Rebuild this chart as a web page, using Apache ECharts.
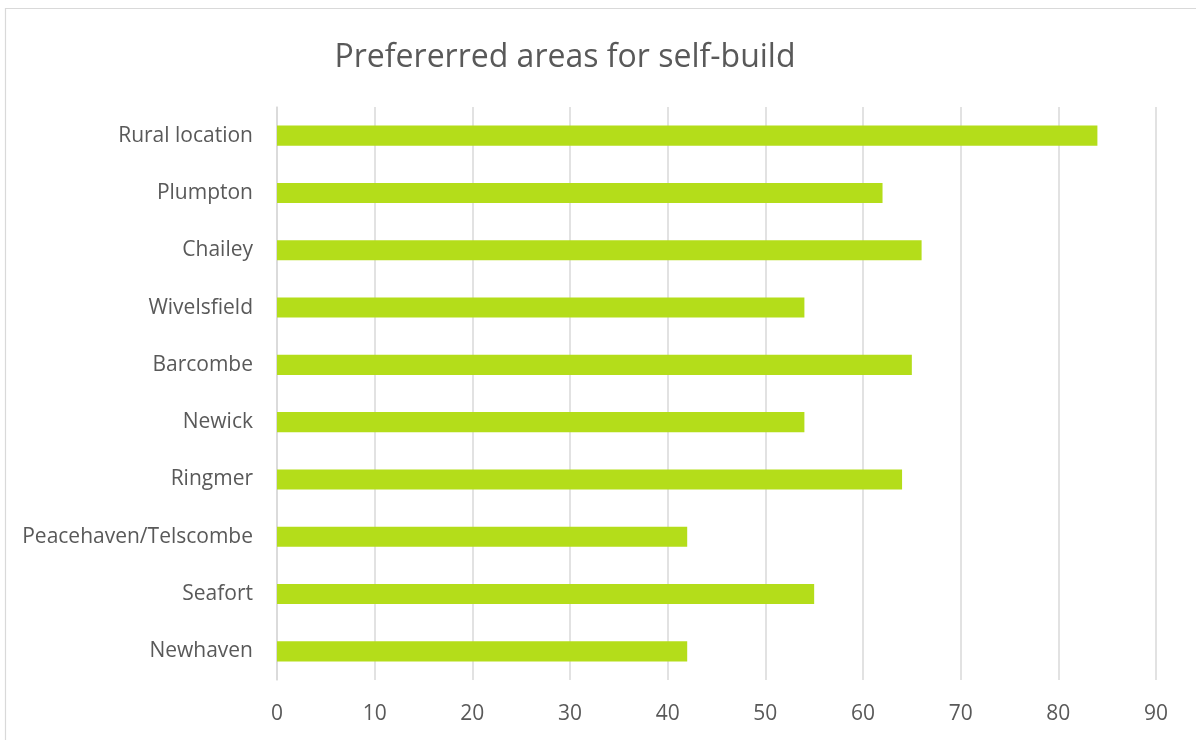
<!DOCTYPE html>
<html>
<head>
<meta charset="utf-8">
<script src="https://cdn.jsdelivr.net/npm/echarts@6/dist/echarts.min.js"></script>
<style>
html,body{margin:0;padding:0;background:#fff;}
#chart{width:1196px;height:740px;}
</style>
</head>
<body>
<div id="chart"></div>
<script>
const titleText = "Prefererred areas for self-build";
const categories = ["Newhaven","Seafort","Peacehaven/Telscombe","Ringmer","Newick","Barcombe","Wivelsfield","Chailey","Plumpton","Rural location"];
const values = [42,55,42,64,54,65,54,66,62,84];
const xTicks = [0,10,20,30,40,50,60,70,80,90];

const chart = echarts.init(document.getElementById('chart'));
const font = '"Open Sans", "Noto Sans", sans-serif';
chart.setOption({
  animation: false,
  backgroundColor: '#ffffff',
  title: {
    text: titleText,
    left: 560,
    top: 37,
    textAlign: 'center',
    textStyle: {fontFamily: font, fontSize: 32, fontWeight: 'normal', color: '#595959'}
  },
  graphic: [{
    type: 'rect', silent: true,
    shape: {x: 5.5, y: 8.5, width: 1400, height: 1000},
    style: {fill: 'none', stroke: '#d9d9d9', lineWidth: 1.2}
  }],
  grid: {left: 277, right: 40, top: 107, bottom: 60, containLabel: false},
  xAxis: {
    type: 'value', min: xTicks[0], max: xTicks[xTicks.length-1], interval: 10,
    axisLine: {show: false}, axisTick: {show: false},
    splitLine: {show: true, lineStyle: {color: '#d9d9d9', width: 1.5}},
    axisLabel: {margin: 24, fontFamily: font, fontSize: 21, color: '#595959'}
  },
  yAxis: {
    type: 'category', data: categories,
    axisLine: {show: true, lineStyle: {color: '#d9d9d9', width: 1.5}},
    axisTick: {show: false},
    axisLabel: {margin: 24, fontFamily: font, fontSize: 21, color: '#595959', padding: [3, 0, 0, 0]}
  },
  series: [{
    type: 'bar', data: values, barWidth: '35%',
    itemStyle: {color: '#b4dd1a'}
  }]
});
</script>
</body>
</html>
